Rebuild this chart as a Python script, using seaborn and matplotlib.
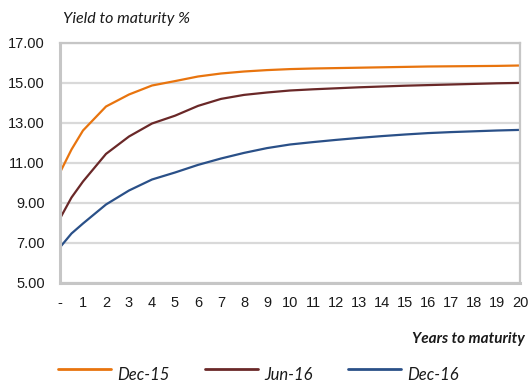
import matplotlib
matplotlib.use("Agg")
import matplotlib.pyplot as plt
import seaborn as sns
import pandas as pd
from matplotlib.lines import Line2D

# Yield curves: years to maturity vs. yield (%)
years = [0, 0.5, 1, 2, 3, 4, 5, 6, 7, 8, 9, 10, 11, 12, 13, 14, 15, 16, 17, 18, 19, 20]
dec15 = [10.50, 11.65, 12.60, 13.80, 14.40, 14.85, 15.07, 15.30, 15.45, 15.55, 15.62, 15.67,
         15.70, 15.72, 15.74, 15.76, 15.78, 15.80, 15.81, 15.82, 15.83, 15.85]
jun16 = [8.20, 9.25, 10.05, 11.43, 12.30, 12.95, 13.34, 13.83, 14.18, 14.38, 14.50, 14.60,
         14.66, 14.71, 14.76, 14.80, 14.84, 14.87, 14.90, 14.93, 14.96, 14.98]
dec16 = [6.76, 7.45, 7.95, 8.90, 9.60, 10.15, 10.50, 10.88, 11.20, 11.48, 11.72, 11.90,
         12.02, 12.13, 12.23, 12.32, 12.40, 12.47, 12.52, 12.56, 12.60, 12.63]
series_names = ["Dec-15", "Jun-16", "Dec-16"]
x_ticks = list(range(0, 21))
x_tick_labels = ["-"] + [str(i) for i in range(1, 21)]
y_ticks = [5, 7, 9, 11, 13, 15, 17]

colors = {"Dec-15": "#E8740E", "Jun-16": "#6A2828", "Dec-16": "#2A5088"}

df = pd.concat([
    pd.DataFrame({"years": years, "yield": vals, "curve": name})
    for name, vals in zip(series_names, [dec15, jun16, dec16])
])

sns.set_theme(style="white")
plt.rcParams["font.family"] = ["Liberation Sans", "DejaVu Sans"]

W, H = 532, 385
fig = plt.figure(figsize=(W / 100, H / 100), dpi=100)
ax = fig.add_axes([60 / W, 1 - 282.5 / H, 460 / W, 240 / H])

sns.lineplot(data=df, x="years", y="yield", hue="curve", palette=colors,
             hue_order=series_names, linewidth=1.6, ax=ax, legend=False)

ax.set_xlim(0, 20)
ax.set_ylim(5, 17)
ax.set_xticks(x_ticks)
ax.set_xticklabels(x_tick_labels)
ax.set_yticks(y_ticks)
ax.set_yticklabels([f"{v:.2f}" for v in y_ticks])
ax.tick_params(axis="both", length=0, labelsize=10.5, colors="#1a1a1a")
ax.tick_params(axis="x", pad=10)
ax.tick_params(axis="y", pad=11)
ax.set_xlabel("")
ax.set_ylabel("")

ax.yaxis.grid(True, color="#d9d9d9", linewidth=1.6)
ax.xaxis.grid(False)
for side, sp in ax.spines.items():
    sp.set_visible(True)
    sp.set_color("#c6c6c6")
    sp.set_linewidth(1.6)
ax.spines["left"].set_linewidth(2.2)
ax.spines["bottom"].set_linewidth(2.2)

label_font = ["Lato", "DejaVu Sans"]
fig.text(63 / W, 1 - 19 / H, "Yield to maturity %", fontsize=11.5, style="italic",
         family=label_font, va="center", ha="left", color="#1a1a1a")
fig.text(525 / W, 1 - 339 / H, "Years to maturity", fontsize=11, style="italic",
         weight="bold", family=label_font, va="center", ha="right", color="#1a1a1a")

# Legend row along the bottom: sample line followed by the series name
legend_x = [58, 205, 348]
for x0, name in zip(legend_x, series_names):
    fig.add_artist(Line2D([x0 / W, (x0 + 53) / W], [1 - 369 / H, 1 - 369 / H],
                          color=colors[name], linewidth=2.0, transform=fig.transFigure))
    fig.text((x0 + 59) / W, 1 - 380 / H, name, fontsize=12, style="italic",
             family=label_font, va="baseline", ha="left", color="#1a1a1a")

fig.savefig("out.png", dpi=100)
